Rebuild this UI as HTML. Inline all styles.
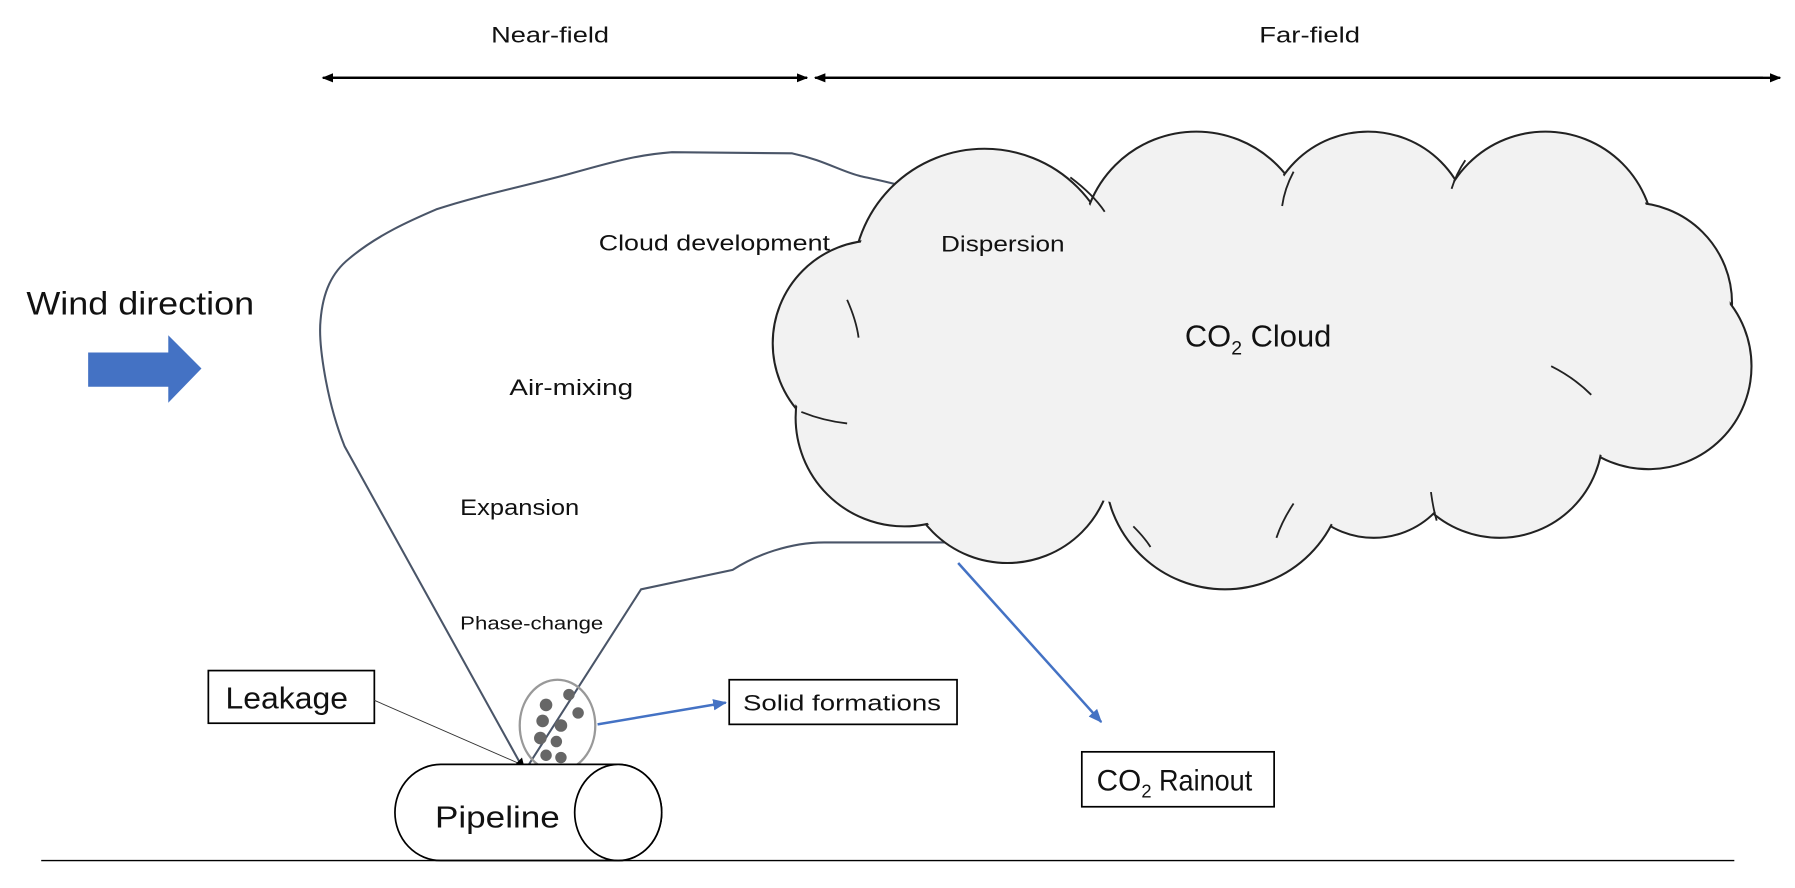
<!DOCTYPE html>
<html><head><meta charset="utf-8"><style>
html,body{margin:0;padding:0;background:#fff;}
svg{display:block;}
text{font-family:"Liberation Sans",sans-serif;fill:#111;}
</style></head><body>
<svg width="1795" height="888" viewBox="0 0 1568 776" preserveAspectRatio="none" xmlns="http://www.w3.org/2000/svg">
<defs>
<marker id="ab" markerWidth="10" markerHeight="10" refX="9" refY="5" orient="auto" markerUnits="userSpaceOnUse"><path d="M0,1 L10,5 L0,9 z" fill="#000"/></marker>
<marker id="abl" markerWidth="12" markerHeight="12" refX="11" refY="6" orient="auto" markerUnits="userSpaceOnUse"><path d="M0,1 L12,6 L0,11 z" fill="#4472c4"/></marker>
</defs>
<text x="429" y="37" font-size="19" textLength="103" lengthAdjust="spacingAndGlyphs">Near-field</text>
<text x="1100" y="37" font-size="19" textLength="88" lengthAdjust="spacingAndGlyphs">Far-field</text>
<line x1="290" y1="68" x2="705" y2="68" stroke="#000" stroke-width="2" marker-end="url(#ab)"/>
<line x1="705" y1="68" x2="282" y2="68" stroke="#000" stroke-width="2" marker-end="url(#ab)"/>
<line x1="720" y1="68" x2="1555" y2="68" stroke="#000" stroke-width="2" marker-end="url(#ab)"/>
<line x1="1540" y1="68" x2="712" y2="68" stroke="#000" stroke-width="2" marker-end="url(#ab)"/>
<text x="23" y="275" font-size="28" textLength="199" lengthAdjust="spacingAndGlyphs">Wind direction</text>
<path d="M77,308 L147,308 L147,293 L176,322 L147,352 L147,338 L77,338 z" fill="#4472c4"/>
<!-- plume -->
<path d="M455,668 L301,390 C285,350 278,300 280,280 C282,255 290,238 305,226 C330,205 360,192 381,183 C420,170 470,160 501,151 C540,140 560,135 587,133 L692,134 C720,140 735,150 752,154 C770,158 790,162 820,172" fill="none" stroke="#4a5568" stroke-width="1.8"/>
<path d="M462,668 L560,515 L640,498 C660,485 690,474 720,474 L840,474" fill="none" stroke="#4a5568" stroke-width="1.8"/>
<!-- cloud -->
<g stroke="#222" stroke-width="1.8" fill="#f2f2f2">
<circle cx="860" cy="245" r="115"/>
<circle cx="1045" cy="215" r="100"/>
<circle cx="1195" cy="205" r="90"/>
<circle cx="1350" cy="210" r="95"/>
<circle cx="1425" cy="265" r="88"/>
<circle cx="1440" cy="320" r="90"/>
<circle cx="1310" cy="380" r="90"/>
<circle cx="1200" cy="395" r="75"/>
<circle cx="1070" cy="410" r="105"/>
<circle cx="880" cy="400" r="92"/>
<circle cx="765" cy="300" r="90"/>
<circle cx="790" cy="365" r="95"/>
</g>
<g fill="#f2f2f2">
<circle cx="860" cy="245" r="113"/>
<circle cx="1045" cy="215" r="98"/>
<circle cx="1195" cy="205" r="88"/>
<circle cx="1350" cy="210" r="93"/>
<circle cx="1425" cy="265" r="86"/>
<circle cx="1440" cy="320" r="88"/>
<circle cx="1310" cy="380" r="88"/>
<circle cx="1200" cy="395" r="73"/>
<circle cx="1070" cy="410" r="103"/>
<circle cx="880" cy="400" r="90"/>
<circle cx="765" cy="300" r="88"/>
<circle cx="790" cy="365" r="93"/>
<ellipse cx="1100" cy="310" rx="330" ry="140"/>
</g>
<g fill="none" stroke="#222" stroke-width="1.6">
<path d="M935,155 Q955,170 965,185"/>
<path d="M1130,150 Q1122,165 1120,180"/>
<path d="M1280,140 Q1272,152 1268,165"/>
<path d="M1355,320 Q1375,330 1390,345"/>
<path d="M1250,430 Q1252,445 1255,455"/>
<path d="M1130,440 Q1120,455 1115,470"/>
<path d="M990,460 Q1000,470 1005,478"/>
<path d="M700,360 Q720,368 740,370"/>
<path d="M740,262 Q748,280 750,295"/>
</g>
<text x="523" y="219" font-size="19" textLength="202" lengthAdjust="spacingAndGlyphs">Cloud development</text>
<text x="822" y="220" font-size="19" textLength="108" lengthAdjust="spacingAndGlyphs">Dispersion</text>
<text x="1035" y="303" font-size="27">CO<tspan font-size="17" dy="7">2</tspan><tspan dy="-7"> Cloud</tspan></text>
<text x="445" y="345" font-size="19" textLength="108" lengthAdjust="spacingAndGlyphs">Air-mixing</text>
<text x="402" y="450" font-size="19" textLength="104" lengthAdjust="spacingAndGlyphs">Expansion</text>
<text x="402" y="550" font-size="16" textLength="125" lengthAdjust="spacingAndGlyphs">Phase-change</text>
<!-- leakage -->
<rect x="182" y="586" width="145" height="46" fill="#fff" stroke="#000" stroke-width="1.5"/>
<text x="197" y="619" font-size="27" textLength="107" lengthAdjust="spacingAndGlyphs">Leakage</text>
<line x1="327" y1="612" x2="453" y2="667" stroke="#333" stroke-width="0.8"/>
<path d="M448,670 L456,662 L458,670 z" fill="#000"/>
<!-- particles -->
<ellipse cx="487" cy="634" rx="33" ry="40" fill="none" stroke="#999" stroke-width="2"/>
<g fill="#666">
<circle cx="497" cy="607" r="5"/><circle cx="477" cy="616" r="5.5"/><circle cx="505" cy="623" r="5"/>
<circle cx="474" cy="630" r="5.5"/><circle cx="490" cy="634" r="5.5"/><circle cx="472" cy="645" r="5.5"/>
<circle cx="486" cy="648" r="5"/><circle cx="477" cy="660" r="5"/><circle cx="490" cy="662" r="5"/>
</g>
<line x1="522" y1="633" x2="634" y2="614" stroke="#4472c4" stroke-width="2.2" marker-end="url(#abl)"/>
<rect x="637" y="594" width="199" height="39" fill="#fff" stroke="#000" stroke-width="1.5"/>
<text x="649" y="621" font-size="19" textLength="173" lengthAdjust="spacingAndGlyphs">Solid formations</text>
<!-- pipeline -->
<path d="M385,668 L540,668 A38,42 0 0 1 540,752 L385,752 A40,42 0 0 1 385,668 z" fill="#fff" stroke="#000" stroke-width="1.5"/>
<ellipse cx="540" cy="710" rx="38" ry="42" fill="#fff" stroke="#000" stroke-width="1.5"/>
<text x="380" y="723" font-size="27" textLength="109" lengthAdjust="spacingAndGlyphs">Pipeline</text>
<line x1="837" y1="492" x2="962" y2="631" stroke="#4472c4" stroke-width="2.2" marker-end="url(#abl)"/>
<rect x="945" y="657" width="168" height="48" fill="#fff" stroke="#000" stroke-width="1.5"/>
<text x="958" y="691" font-size="26">CO<tspan font-size="16" dy="6">2</tspan><tspan dy="-6" textLength="88" lengthAdjust="spacingAndGlyphs"> Rainout</tspan></text>
<line x1="36" y1="752" x2="1515" y2="752" stroke="#000" stroke-width="1.2"/>
</svg>
</body></html>
